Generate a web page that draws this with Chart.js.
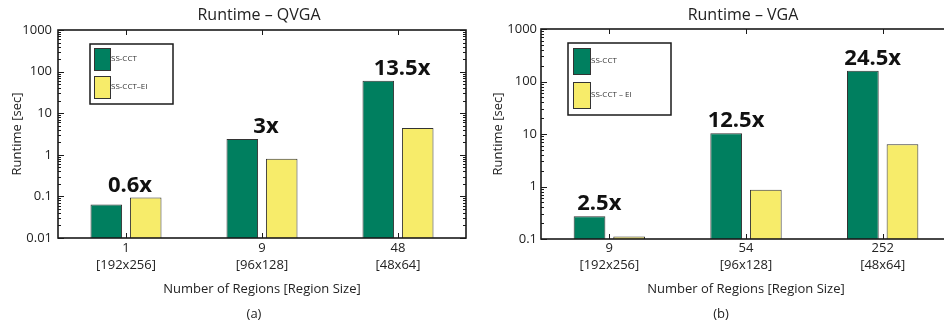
<!DOCTYPE html>
<html>
<head>
<meta charset="utf-8">
<script src="https://cdn.jsdelivr.net/npm/chart.js@4.4.1/dist/chart.umd.min.js"></script>
<style>
  html, body { margin: 0; padding: 0; background: #fff; overflow: hidden; }
  #wrap { position: relative; width: 944px; height: 324px; overflow: hidden; }
  .panel { position: absolute; top: 0; height: 324px; }
  #panelA { left: 0; width: 472px; }
  #panelB { left: 472px; width: 480px; }
</style>
</head>
<body>
<div id="wrap">
  <div class="panel" id="panelA"><canvas id="chartA" width="472" height="324"></canvas></div>
  <div class="panel" id="panelB"><canvas id="chartB" width="480" height="324"></canvas></div>
</div>
<script>
// (a) QVGA
const categoriesA = [["1", "[192x256]"], ["9", "[96x128]"], ["48", "[48x64]"]];
const ssCctA = [0.064, 2.4, 60];
const ssCctEiA = [0.094, 0.8, 4.4];
const speedupA = ["0.6x", "3x", "13.5x"];
const yTicksA = [0.01, 0.1, 1, 10, 100, 1000];

// (b) VGA
const categoriesB = [["9", "[192x256]"], ["54", "[96x128]"], ["252", "[48x64]"]];
const ssCctB = [0.27, 10.3, 160];
const ssCctEiB = [0.112, 0.87, 6.4];
const speedupB = ["2.5x", "12.5x", "24.5x"];
const yTicksB = [0.1, 1, 10, 100, 1000];

const GREEN = "#007f5f";
const YELLOW = "#f7ec6a";
const FONT = "'Open Sans', 'DejaVu Sans', sans-serif";

Chart.defaults.font.family = FONT;
Chart.defaults.color = "#222";

function line(ctx, x1, y1, x2, y2) {
    ctx.beginPath();
    ctx.moveTo(x1, y1);
    ctx.lineTo(x2, y2);
    ctx.stroke();
}

// box, inward ticks, legend, speedup labels, title and caption
const decorPlugin = {
    id: "decor",
    afterDatasetsDraw(chart, args, opts) {
        const { ctx, chartArea: a, scales: { x, y } } = chart;
        ctx.save();
        ctx.strokeStyle = "#1a1a1a";
        ctx.lineWidth = 1.6;
        ctx.strokeRect(Math.round(a.left), Math.round(a.top),
            Math.round(a.right - a.left), Math.round(a.bottom - a.top));

        // log ticks on both sides
        ctx.lineWidth = 1;
        y.ticks.forEach(t => {
            const py = Math.round(y.getPixelForValue(t.value)) + 0.5;
            line(ctx, a.left, py, a.left + 6, py);
            line(ctx, a.right, py, a.right - 6, py);
            for (let k = 2; k < 10; k++) {
                const v = t.value * k;
                if (v >= y.max) break;
                const pm = Math.round(y.getPixelForValue(v)) + 0.5;
                line(ctx, a.left, pm, a.left + 3, pm);
                line(ctx, a.right, pm, a.right - 3, pm);
            }
        });
        x.ticks.forEach((t, i) => {
            const px = Math.round(x.getPixelForTick(i)) + 0.5;
            line(ctx, px, a.bottom, px, a.bottom - 5);
            line(ctx, px, a.top, px, a.top + 5);
        });

        // speedup labels above the taller bar
        ctx.fillStyle = "#111";
        ctx.font = "bold 22px " + FONT;
        ctx.textAlign = "center";
        ctx.textBaseline = "alphabetic";
        opts.speedup.forEach((txt, i) => {
            const top = Math.max(...chart.data.datasets.map(d => d.data[i]));
            const px = x.getPixelForValue(i) + opts.labelDx;
            ctx.fillText(txt, px, y.getPixelForValue(top) - 6);
        });

        // legend box
        const lg = opts.legend;
        const lx = a.left + lg.dx, ly = a.top + lg.dy;
        ctx.fillStyle = "#fff";
        ctx.fillRect(lx, ly, lg.w, lg.h);
        ctx.strokeStyle = "#1a1a1a";
        ctx.lineWidth = 1.5;
        ctx.strokeRect(Math.round(lx), Math.round(ly), lg.w, lg.h);
        ctx.lineWidth = 1;
        ctx.font = "8px " + FONT;
        ctx.textAlign = "left";
        ctx.textBaseline = "middle";
        chart.data.datasets.forEach((ds, i) => {
            const sy = ly + lg.pad + i * (lg.sh + lg.gap);
            ctx.fillStyle = ds.backgroundColor;
            ctx.fillRect(lx + lg.pad, sy, lg.sw, lg.sh);
            ctx.strokeStyle = "#333";
            ctx.strokeRect(Math.round(lx + lg.pad) + 0.5, Math.round(sy) + 0.5, lg.sw, lg.sh);
            ctx.fillStyle = "#333";
            ctx.fillText(ds.label, lx + lg.pad + lg.sw + 1, sy + lg.sh / 2);
        });

        // title and caption
        ctx.fillStyle = "#222";
        ctx.textAlign = "center";
        ctx.font = "16px " + FONT;
        ctx.fillText(opts.title, (a.left + a.right) / 2 - 3, 15);
        ctx.font = "13px " + FONT;
        ctx.fillText(opts.caption, opts.captionX, 314);
        ctx.restore();
    }
};

function makeChart(id, cfg) {
    const ctx = document.getElementById(id);
    return new Chart(ctx, {
        type: "bar",
        data: {
            labels: cfg.categories,
            datasets: [
                { label: "SS-CCT", data: cfg.green, backgroundColor: GREEN },
                { label: cfg.eiLabel, data: cfg.yellow, backgroundColor: YELLOW }
            ].map(d => Object.assign(d, {
                borderColor: "#333", borderWidth: 1,
                categoryPercentage: 0.58, barPercentage: 0.8
            }))
        },
        options: {
            responsive: false,
            animation: false,
            layout: { padding: { top: cfg.top, right: cfg.right, left: 0, bottom: 0 } },
            plugins: {
                legend: { display: false },
                tooltip: { enabled: false },
                decor: {
                    speedup: cfg.speedup,
                    labelDx: cfg.labelDx,
                    legend: cfg.legend,
                    title: cfg.title,
                    caption: cfg.caption,
                    captionX: cfg.captionX
                }
            },
            scales: {
                x: {
                    grid: { display: false, drawTicks: false },
                    border: { display: false },
                    ticks: { font: { size: 13, lineHeight: 1.3 }, padding: cfg.xPad, color: "#222" },
                    title: {
                        display: true, text: "Number of Regions [Region Size]",
                        font: { size: 13 }, color: "#222", padding: { top: 0, bottom: 27 }
                    },
                    afterFit: s => { s.height = cfg.xHeight; }
                },
                y: {
                    type: "logarithmic",
                    min: cfg.yTicks[0],
                    max: cfg.yTicks[cfg.yTicks.length - 1],
                    grid: { display: false, drawTicks: false },
                    border: { display: false },
                    afterBuildTicks: s => { s.ticks = cfg.yTicks.map(v => ({ value: v })); },
                    ticks: {
                        font: { size: 13 }, color: "#222", padding: cfg.yPad,
                        autoSkip: false, callback: v => String(v)
                    },
                    title: {
                        display: true, text: "Runtime [sec]",
                        font: { size: 13 }, color: "#222", padding: { top: cfg.yTitlePad, bottom: 0 }
                    },
                    afterFit: s => { s.width = cfg.yWidth; }
                }
            }
        },
        plugins: [decorPlugin]
    });
}

makeChart("chartA", {
    categories: categoriesA, green: ssCctA, yellow: ssCctEiA, speedup: speedupA,
    yTicks: yTicksA, eiLabel: "SS-CCT\u2013EI", title: "Runtime \u2013 QVGA",
    caption: "(a)", captionX: 254, labelDx: 4,
    top: 30, right: 6, xHeight: 86, yWidth: 58, xPad: 2, yPad: 6, yTitlePad: 9,
    legend: { dx: 32, dy: 14, w: 83, h: 60, pad: 4, sw: 16, sh: 22, gap: 6 }
});

makeChart("chartB", {
    categories: categoriesB, green: ssCctB, yellow: ssCctEiB, speedup: speedupB,
    yTicks: yTicksB, eiLabel: "SS-CCT \u2013 EI", title: "Runtime \u2013 VGA",
    caption: "(b)", captionX: 249, labelDx: -10,
    top: 29, right: 1, xHeight: 85, yWidth: 69, xPad: 1, yPad: 4, yTitlePad: 18,
    legend: { dx: 27, dy: 14, w: 103, h: 72, pad: 5, sw: 17, sh: 26, gap: 8 }
});
</script>
</body>
</html>
